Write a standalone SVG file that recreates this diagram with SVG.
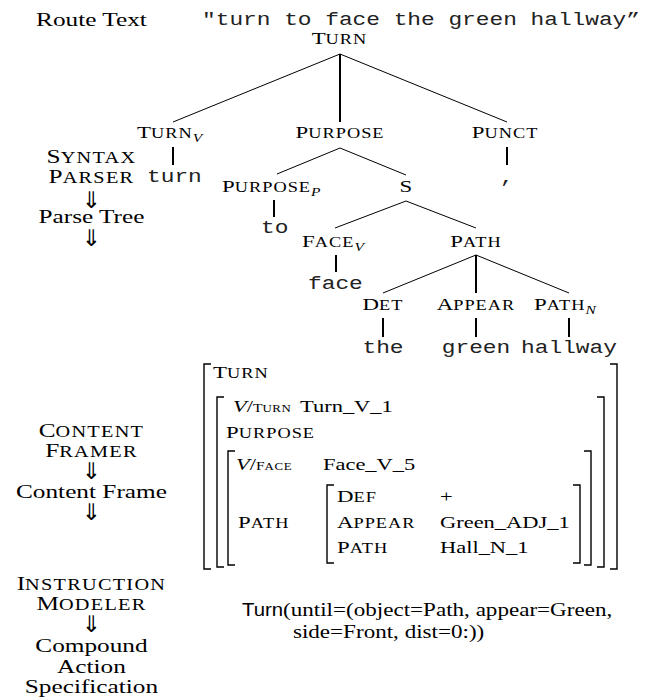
<svg xmlns="http://www.w3.org/2000/svg" width="655" height="700" viewBox="0 0 655 700">
<defs>
<style>
.s{font-family:"Liberation Serif","Times New Roman",serif;fill:#000}
.m{font-family:"Liberation Mono","Courier New",monospace;fill:#222;font-size:17.7px}
.h{font-family:"Liberation Sans",Arial,sans-serif;fill:#000}
.L{font-size:19.6px}
.Ls{font-size:15.7px;letter-spacing:1px}
.N{font-size:17.7px}
.Ns{font-size:14.2px;letter-spacing:0.8px}
.V{font-size:17.4px}
.sub{font-size:12px;font-style:italic}
.tiny1{font-size:12px}
.tiny2{font-size:10px;letter-spacing:0.5px}
.it{font-style:italic}
.mid{text-anchor:middle}
.arr{font-family:"DejaVu Sans",sans-serif;font-size:23px;text-anchor:middle;fill:#000}
.d{stroke:#000;stroke-width:1;fill:none}
.v{stroke:#000;stroke-width:2;fill:none}
.b{stroke:#000;stroke-width:1.4;fill:none}
</style>
</defs>
<rect width="655" height="700" fill="#fff"/>

<g id="connectors">
<line class="d" x1="340" y1="54" x2="173" y2="122"/>
<line class="v" x1="340" y1="54" x2="340" y2="122"/>
<line class="d" x1="340" y1="54" x2="507" y2="122"/>
<line class="v" x1="173" y1="147" x2="173" y2="165"/>
<line class="v" x1="507" y1="147" x2="507" y2="165"/>
<line class="d" x1="340" y1="148" x2="277" y2="174"/>
<line class="d" x1="340" y1="148" x2="406" y2="175"/>
<line class="v" x1="274" y1="200" x2="274" y2="217"/>
<line class="d" x1="406" y1="201" x2="335" y2="228"/>
<line class="d" x1="406" y1="201" x2="476" y2="228"/>
<line class="v" x1="336" y1="255" x2="336" y2="272"/>
<line class="d" x1="476" y1="255" x2="383" y2="293"/>
<line class="v" x1="476" y1="255" x2="476" y2="293"/>
<line class="d" x1="476" y1="255" x2="569" y2="293"/>
<line class="v" x1="383" y1="318" x2="383" y2="337"/>
<line class="v" x1="476" y1="318" x2="476" y2="337"/>
<line class="v" x1="569" y1="318" x2="569" y2="337"/>
</g>

<g id="brackets">
<path class="b" d="M211,364 H204 V569 H211"/>
<path class="b" d="M610,364 H617 V569 H610"/>
<path class="b" d="M224,397 H217 V567 H224"/>
<path class="b" d="M597,397 H604 V567 H597"/>
<path class="b" d="M235,451 H228 V565 H235"/>
<path class="b" d="M584,451 H591 V565 H584"/>
<path class="b" d="M334,485 H327 V563 H334"/>
<path class="b" d="M573,485 H580 V563 H573"/>
</g>

<g id="arrows">
<text class="arr" x="91.5" y="208">⇓</text>
<text class="arr" x="91.5" y="246">⇓</text>
<text class="arr" x="91.5" y="479">⇓</text>
<text class="arr" x="91.5" y="520">⇓</text>
<text class="arr" x="91.5" y="632">⇓</text>
</g>

<g transform="scale(1.29,1)">
<g id="stage-labels">
<text class="s L mid" x="70.9" y="26">Route Text</text>
<text class="s L mid" x="70.9" y="163">S<tspan class="Ls">YNTAX</tspan></text>
<text class="s L mid" x="70.9" y="183">P<tspan class="Ls">ARSER</tspan></text>
<text class="s L mid" x="70.9" y="223">Parse Tree</text>
<text class="s L mid" x="70.9" y="437">C<tspan class="Ls">ONTENT</tspan></text>
<text class="s L mid" x="70.9" y="457">F<tspan class="Ls">RAMER</tspan></text>
<text class="s L mid" x="70.9" y="498">Content Frame</text>
<text class="s L mid" x="70.9" y="590">I<tspan class="Ls">NSTRUCTION</tspan></text>
<text class="s L mid" x="70.9" y="610">M<tspan class="Ls">ODELER</tspan></text>
<text class="s L mid" x="70.9" y="652">Compound</text>
<text class="s L mid" x="70.9" y="673">Action</text>
<text class="s L mid" x="70.9" y="693">Specification</text>
</g>

<g id="route-text"><text class="m" x="156.6" y="25">"turn to face the green hallway”</text></g>

<g id="n-turn"><text class="s N mid" x="263.2" y="44">T<tspan class="Ns">URN</tspan></text></g>
<g id="n-turnv"><text class="s N" x="106.2" y="138">T<tspan class="Ns">URN</tspan><tspan class="sub" dy="4">V</tspan></text></g>
<g id="n-purpose"><text class="s N mid" x="263.6" y="138">P<tspan class="Ns">URPOSE</tspan></text></g>
<g id="n-punct"><text class="s N mid" x="391.5" y="138">P<tspan class="Ns">UNCT</tspan></text></g>
<g id="w-turn"><text class="m" x="114" y="182">turn</text></g>
<g id="w-comma"><text class="m mid" x="393" y="183">,</text></g>
<g id="n-purposep"><text class="s N" x="172.1" y="192">P<tspan class="Ns">URPOSE</tspan><tspan class="sub" dy="4">P</tspan></text></g>
<g id="n-s"><text class="s N mid" x="314.7" y="192">S</text></g>
<g id="w-to"><text class="m" x="202.3" y="233">to</text></g>
<g id="n-facev"><text class="s N" x="234.1" y="247">F<tspan class="Ns">ACE</tspan><tspan class="sub" dy="4">V</tspan></text></g>
<g id="n-path"><text class="s N mid" x="369" y="247">P<tspan class="Ns">ATH</tspan></text></g>
<g id="w-face"><text class="m" x="238.8" y="289">face</text></g>
<g id="n-det"><text class="s N mid" x="296.9" y="310">D<tspan class="Ns">ET</tspan></text></g>
<g id="n-appear"><text class="s N mid" x="369" y="310">A<tspan class="Ns">PPEAR</tspan></text></g>
<g id="n-pathn"><text class="s N" x="414" y="310">P<tspan class="Ns">ATH</tspan><tspan class="sub" dy="4">N</tspan></text></g>
<g id="w-the"><text class="m mid" x="296.9" y="353">the</text></g>
<g id="w-green"><text class="m mid" x="369" y="353">green</text></g>
<g id="w-hallway"><text class="m mid" x="441.1" y="353">hallway</text></g>

<g id="content-frame">
<text class="s N" x="165.1" y="378">T<tspan class="Ns">URN</tspan></text>
<text class="s V" x="180.6" y="412"><tspan class="it">V</tspan>/<tspan class="tiny1">T</tspan><tspan class="tiny2">URN</tspan></text>
<text class="s V" x="232.6" y="412">Turn_V_1</text>
<text class="s N" x="175.2" y="438">P<tspan class="Ns">URPOSE</tspan></text>
<text class="s V" x="182.9" y="470"><tspan class="it">V</tspan>/<tspan class="tiny1">F</tspan><tspan class="tiny2">ACE</tspan></text>
<text class="s V" x="250.4" y="470">Face_V_5</text>
<text class="s N" x="184.5" y="528">P<tspan class="Ns">ATH</tspan></text>
<text class="s N" x="261.2" y="502">D<tspan class="Ns">EF</tspan></text>
<text class="s V" x="341.1" y="502">+</text>
<text class="s N" x="261.2" y="528">A<tspan class="Ns">PPEAR</tspan></text>
<text class="s V" x="341.1" y="528">Green_ADJ_1</text>
<text class="s N" x="261.2" y="553">P<tspan class="Ns">ATH</tspan></text>
<text class="s V" x="341.1" y="553">Hall_N_1</text>
</g>

<g id="action-spec">
<text class="h" x="187.6" y="616" font-size="17.7" textLength="31.8" lengthAdjust="spacingAndGlyphs">Turn</text>
<text class="s" x="219.4" y="616" font-size="17.9">(until=(object=Path, appear=Green,</text>
<text class="s" x="227.1" y="638" font-size="17.9">side=Front, dist=0:))</text>
</g>
</g>
</svg>
